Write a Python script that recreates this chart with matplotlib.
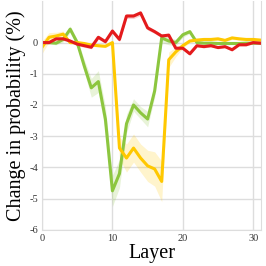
import numpy as np
import matplotlib
matplotlib.use("Agg")
import matplotlib.pyplot as plt

layers = list(range(32))

green = [0.0, 0.0, -0.02, 0.1, 0.43, 0.0, -0.75, -1.45, -1.25, -2.45, -4.75, -4.2,
         -2.6, -2.0, -2.25, -2.45, -1.55, 0.15, 0.05, 0.0, 0.25, 0.35, 0.0, -0.02,
         -0.02, -0.03, -0.03, -0.03, -0.03, -0.02, -0.02, -0.02]
green_err = [0.05, 0.05, 0.05, 0.08, 0.1, 0.1, 0.2, 0.3, 0.35, 0.4, 0.5, 0.45,
             0.3, 0.2, 0.2, 0.25, 0.2, 0.15, 0.12, 0.1, 0.08, 0.06, 0.05, 0.04,
             0.03, 0.03, 0.03, 0.03, 0.03, 0.03, 0.03, 0.03]

yellow = [-0.15, 0.17, 0.21, 0.27, 0.0, 0.0, -0.03, -0.08, -0.1, -0.12, 0.0, -3.38,
          -3.7, -3.38, -3.7, -3.95, -4.05, -4.45, -0.55, -0.3, -0.1, 0.05, 0.08, 0.1,
          0.1, 0.12, 0.07, 0.15, 0.12, 0.1, 0.1, 0.08]
yellow_err = [0.2, 0.15, 0.12, 0.1, 0.05, 0.04, 0.04, 0.04, 0.04, 0.04, 0.05, 0.35,
              0.45, 0.45, 0.45, 0.5, 0.55, 0.65, 0.25, 0.15, 0.08, 0.05, 0.05, 0.05,
              0.05, 0.05, 0.05, 0.05, 0.05, 0.05, 0.05, 0.05]

red = [0.0, 0.0, 0.12, 0.12, 0.05, -0.05, -0.1, -0.15, 0.17, 0.03, 0.37, 0.1,
       0.85, 0.85, 0.95, 0.47, 0.35, 0.21, 0.24, -0.18, -0.18, -0.36, -0.1, -0.13,
       -0.1, -0.16, -0.13, -0.23, -0.07, -0.07, 0.0, -0.02]
red_err = [0.04, 0.04, 0.05, 0.05, 0.05, 0.05, 0.05, 0.05, 0.06, 0.06, 0.07, 0.07,
           0.08, 0.08, 0.08, 0.07, 0.06, 0.06, 0.05, 0.05, 0.05, 0.05, 0.04, 0.04,
           0.04, 0.04, 0.04, 0.04, 0.04, 0.04, 0.04, 0.04]

plt.rcParams['font.family'] = ['Liberation Serif', 'DejaVu Serif']

fig = plt.figure(figsize=(2.66, 2.66), dpi=100)
ax = fig.add_axes([0.158, 0.136, 0.823, 0.86])

series = [(green, green_err, '#8cc63f'),
          (yellow, yellow_err, '#ffc800'),
          (red, red_err, '#e41a1c')]
for vals, err, col in series:
    v = np.array(vals)
    e = np.array(err)
    ax.fill_between(layers, v - e, v + e, color=col, alpha=0.2, linewidth=0)
    ax.plot(layers, v, color=col, linewidth=2.2)

ax.set_xlim(0, 31.1)
ax.set_ylim(-6, 1.33)
ax.set_xticks([0, 10, 20, 30])
ax.set_yticks([-6, -5, -4, -3, -2, -1, 0])
ax.set_yticklabels(['-6', '-5', '-4', '-3', '-2', '-1', '0'])
ax.grid(True, color='#dddddd', linewidth=1.0)
ax.set_axisbelow(True)
for s in ax.spines.values():
    s.set_color('#dddddd')
ax.spines['top'].set_visible(False)
ax.tick_params(length=0, labelsize=7.5, pad=3, colors='#333333')

ax.set_xlabel('Layer', fontsize=14.5, labelpad=1)
ax.set_ylabel('Change in probability (%)', fontsize=14.5, labelpad=2)

fig.savefig('out.png', dpi=100)
